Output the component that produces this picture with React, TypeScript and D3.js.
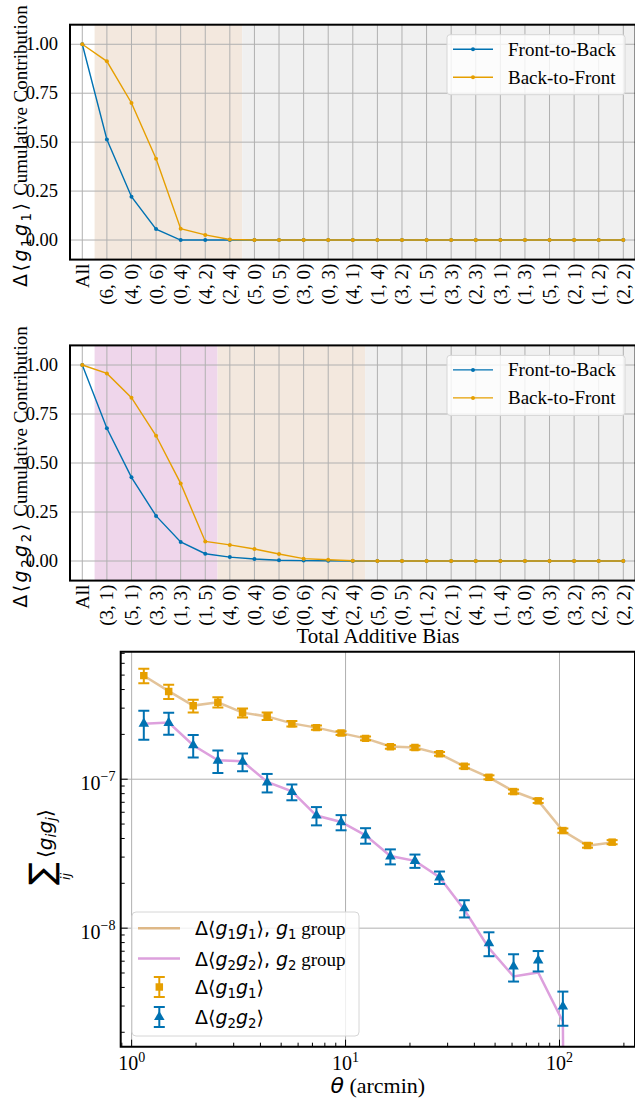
import React from 'react';
import * as d3 from 'd3';

// ---- data ----
const g1Cats = ['All', '(6, 0)', '(4, 0)', '(0, 6)', '(0, 4)', '(4, 2)', '(2, 4)', '(5, 0)', '(0, 5)', '(3, 0)', '(0, 3)', '(4, 1)', '(1, 4)', '(3, 2)', '(1, 5)', '(3, 3)', '(2, 3)', '(3, 1)', '(1, 3)', '(5, 1)', '(2, 1)', '(1, 2)', '(2, 2)'];
const g1Front = [1.0, 0.514, 0.221, 0.056, 0.0, 0.0, 0.0, 0, 0, 0, 0, 0, 0, 0, 0, 0, 0, 0, 0, 0, 0, 0, 0];
const g1Back = [1.0, 0.913, 0.70, 0.415, 0.058, 0.026, 0.003, 0, 0, 0, 0, 0, 0, 0, 0, 0, 0, 0, 0, 0, 0, 0, 0];
// shaded groups: [first category, last category]
const g1Groups = [['(6, 0)', '(2, 4)'], ['(5, 0)', '(2, 2)']];

const g2Cats = ['All', '(3, 1)', '(5, 1)', '(3, 3)', '(1, 3)', '(1, 5)', '(4, 0)', '(0, 4)', '(6, 0)', '(0, 6)', '(4, 2)', '(2, 4)', '(5, 0)', '(0, 5)', '(1, 2)', '(2, 1)', '(4, 1)', '(1, 4)', '(3, 0)', '(0, 3)', '(3, 2)', '(2, 3)', '(2, 2)'];
const g2Front = [1.0, 0.677, 0.427, 0.230, 0.097, 0.037, 0.020, 0.010, 0.004, 0.002, 0.001, 0, 0, 0, 0, 0, 0, 0, 0, 0, 0, 0, 0];
const g2Back = [1.0, 0.957, 0.833, 0.639, 0.396, 0.100, 0.082, 0.061, 0.036, 0.012, 0.006, 0.001, 0, 0, 0, 0, 0, 0, 0, 0, 0, 0, 0];
const g2Groups = [['(3, 1)', '(1, 5)'], ['(4, 0)', '(2, 4)'], ['(5, 0)', '(2, 2)']];

const cumTicks = [0, 0.25, 0.5, 0.75, 1.0];

const theta = [1.14, 1.49, 1.94, 2.53, 3.30, 4.30, 5.61, 7.31, 9.53, 12.4, 16.2, 21.1, 27.5, 35.9, 46.8, 61.0, 79.5, 103.7, 135.2, 176.2];
const g1g1 = [4.96e-7, 3.88e-7, 3.11e-7, 3.29e-7, 2.79e-7, 2.65e-7, 2.36e-7, 2.22e-7, 2.04e-7, 1.88e-7, 1.65e-7, 1.63e-7, 1.48e-7, 1.22e-7, 1.03e-7, 8.26e-8, 7.16e-8, 4.52e-8, 3.59e-8, 3.78e-8];
const g1g1Err = [5.5e-8, 4.2e-8, 3.1e-8, 2.6e-8, 1.9e-8, 1.5e-8, 1.0e-8, 7e-9, 6e-9, 5.5e-9, 5e-9, 5e-9, 4.5e-9, 3.8e-9, 3.2e-9, 2.6e-9, 2.3e-9, 1.5e-9, 1.2e-9, 1.2e-9];
const g1Group = [4.95e-7, 3.90e-7, 3.12e-7, 3.28e-7, 2.80e-7, 2.64e-7, 2.37e-7, 2.22e-7, 2.04e-7, 1.88e-7, 1.66e-7, 1.63e-7, 1.48e-7, 1.22e-7, 1.03e-7, 8.3e-8, 7.18e-8, 4.5e-8, 3.58e-8, 3.76e-8];
const g2g2 = [2.36e-7, 2.39e-7, 1.69e-7, 1.33e-7, 1.31e-7, 9.5e-8, 8.22e-8, 5.70e-8, 5.14e-8, 4.19e-8, 3.03e-8, 2.83e-8, 2.19e-8, 1.36e-8, 7.93e-9, 5.53e-9, 6.07e-9, 2.98e-9];
const g2g2Err = [5.2e-8, 4.0e-8, 2.9e-8, 2.3e-8, 1.8e-8, 1.35e-8, 1.0e-8, 8e-9, 6e-9, 5e-9, 3.5e-9, 2.9e-9, 2.1e-9, 1.8e-9, 1.45e-9, 1.15e-9, 9.5e-10, 7.7e-10];
const g2Group = [2.36e-7, 2.40e-7, 1.69e-7, 1.34e-7, 1.32e-7, 9.6e-8, 8.3e-8, 5.70e-8, 5.16e-8, 4.2e-8, 3.05e-8, 2.83e-8, 2.2e-8, 1.33e-8, 7.34e-9, 4.74e-9, 5.04e-9, 2.36e-9, -1.0e-9, -2.0e-9];

// ---- style ----
const SERIF = '"Liberation Serif", "Times New Roman", serif';
const MATH = '"DejaVu Sans", sans-serif';
const BLUE = '#0072B2';
const ORANGE = '#E69F00';
const TAN = '#deb887';
const PLUM = '#dda0dd';
const GRID = '#b0b0b0';
const spanColors1 = ['#f3e8de', '#f0f0f0'];
const spanColors2 = ['#efd6eb', '#f3e8de', '#f0f0f0'];

type Piece = { t: string; it?: boolean; sub?: boolean; sup?: boolean; serif?: boolean };

function Rich({ pieces, fs, ls = 0 }: { pieces: Piece[]; fs: number; ls?: number }) {
  let shift = 0;
  return (
    <>
      {pieces.map((p, i) => {
        const target = p.sub ? fs * 0.22 : p.sup ? -fs * 0.42 : 0;
        const dy = target - shift;
        shift = target;
        return (
          <tspan key={i} dy={dy || undefined}
            fontFamily={p.serif ? SERIF : MATH}
            fontStyle={p.it ? 'italic' : 'normal'}
            letterSpacing={p.serif ? 0 : ls}
            fontSize={p.sub || p.sup ? fs * 0.7 : fs}>{p.t}</tspan>
        );
      })}
    </>
  );
}

const dgg = (n: string): Piece[] => [
  { t: 'Δ⟨' }, { t: 'g', it: true }, { t: n, sub: true }, { t: 'g', it: true }, { t: n, sub: true }, { t: '⟩' },
];

interface CumProps {
  cats: string[];
  front: number[];
  back: number[];
  groups: string[][];
  colors: string[];
  top: number;
  bottom: number;
  n: string;
}

const CumPanel: React.FC<CumProps> = ({ cats, front, back, groups, colors, top, bottom, n }) => {
  const left = 70, right = 635.6;
  const x = d3.scaleBand<string>().domain(cats).range([left, right]).padding(0);
  const bw = x.bandwidth();
  const cx = (c: string) => (x(c) as number) + bw / 2;
  const y = d3.scaleLinear().domain([-0.1, 1.1]).range([bottom, top]);
  const line = d3.line<number>().x((_, i) => cx(cats[i])).y(v => y(v));
  const fmt = d3.format('.2f');
  const lx = 447, ly = top + 10;

  return (
    <g>
      {groups.map((g, i) => (
        <rect key={i} x={x(g[0])} y={top} width={(x(g[1]) as number) + bw - (x(g[0]) as number)}
          height={bottom - top} fill={colors[i]} />
      ))}
      {cats.map(c => (
        <line key={c} x1={cx(c)} x2={cx(c)} y1={top} y2={bottom} stroke={GRID} strokeWidth={1} />
      ))}
      {cumTicks.map(t => (
        <g key={t}>
          <line x1={left} x2={right} y1={y(t)} y2={y(t)} stroke={GRID} strokeWidth={1} />
          <text x={58} y={y(t) + 6} textAnchor="end" fontFamily={SERIF} fontSize={18.5}>{fmt(t)}</text>
        </g>
      ))}
      {[{ d: front, c: BLUE }, { d: back, c: ORANGE }].map((s, k) => (
        <g key={k}>
          <path d={line(s.d) || ''} fill="none" stroke={s.c} strokeWidth={1.4} />
          {s.d.map((v, i) => <circle key={i} cx={cx(cats[i])} cy={y(v)} r={2} fill={s.c} />)}
        </g>
      ))}
      <rect x={left} y={top} width={right - left} height={bottom - top} fill="none" stroke="#000" strokeWidth={2} />
      {cats.map(c => (
        <text key={c} transform={`translate(${cx(c) + 6.5},${bottom + 4}) rotate(-90)`} textAnchor="end"
          fontFamily={SERIF} fontSize={19}>{c}</text>
      ))}
      <g transform={`translate(27,${(top + bottom) / 2 + 4}) rotate(-90)`}>
        <text x={0} y={0} textAnchor="middle" fontSize={19}>
          <Rich fs={19} ls={2.5} pieces={[...dgg(n), { t: ' Cumulative Contribution', serif: true }]} />
        </text>
      </g>
      <rect x={lx} y={ly} width={178} height={60} rx={3} fill="#fff" fillOpacity={0.8} stroke="#d6d6d6" />
      {[{ c: BLUE, t: 'Front-to-Back' }, { c: ORANGE, t: 'Back-to-Front' }].map((e, i) => (
        <g key={i}>
          <line x1={lx + 6} x2={lx + 46} y1={ly + 14.5 + i * 28} y2={ly + 14.5 + i * 28} stroke={e.c} strokeWidth={1.4} />
          <circle cx={lx + 26} cy={ly + 14.5 + i * 28} r={2} fill={e.c} />
          <text x={lx + 61} y={ly + 21 + i * 28} fontFamily={SERIF} fontSize={19}>{e.t}</text>
        </g>
      ))}
    </g>
  );
};

const CorrPanel: React.FC = () => {
  const left = 120.7, right = 635, top = 651.7, bottom = 1046.7;
  const x = d3.scaleLog().domain([0.889, 225.4]).range([left, right]);
  const y = d3.scaleLog().domain([1.6e-9, 7.18e-7]).range([bottom, top]);
  const yv = (v: number) => y(Math.max(v, 1e-30));
  const line = d3.line<number>().x((_, i) => x(theta[i])).y(v => yv(v));
  const xMinor = x.ticks().filter(t => t >= 0.889 && t <= 225.4);
  const yMinor = y.ticks().filter(t => t >= 1.6e-9 && t <= 7.18e-7);
  const xMajor = [1, 10, 100];
  const yMajor = [1e-8, 1e-7];
  const sq = d3.symbol(d3.symbolSquare, 56)() || '';
  const tri = d3.symbol(d3.symbolTriangle, 48)() || '';

  const errBars = (vals: number[], errs: number[], color: string, marker: string) =>
    vals.map((v, i) => {
      const px = x(theta[i]);
      const y1 = yv(v - errs[i]), y2 = yv(v + errs[i]);
      return (
        <g key={i}>
          <line x1={px} x2={px} y1={y1} y2={y2} stroke={color} strokeWidth={2} />
          <line x1={px - 5.5} x2={px + 5.5} y1={y1} y2={y1} stroke={color} strokeWidth={2} />
          <line x1={px - 5.5} x2={px + 5.5} y1={y2} y2={y2} stroke={color} strokeWidth={2} />
          <path d={marker} transform={`translate(${px},${yv(v)})`} fill={color} />
        </g>
      );
    });

  const legX = 132, legY = 912;
  const rowY = [928.3, 958.5, 987, 1017];

  return (
    <g>
      <defs>
        <clipPath id="corrClip"><rect x={left} y={top} width={right - left} height={bottom - top} /></clipPath>
      </defs>
      {xMajor.map(t => <line key={t} x1={x(t)} x2={x(t)} y1={top} y2={bottom} stroke={GRID} strokeWidth={1} />)}
      {yMajor.map(t => <line key={t} x1={left} x2={right} y1={y(t)} y2={y(t)} stroke={GRID} strokeWidth={1} />)}
      <g clipPath="url(#corrClip)">
        <path d={line(g1Group) || ''} fill="none" stroke={TAN} strokeWidth={2.5} strokeOpacity={0.85} />
        <path d={line(g2Group) || ''} fill="none" stroke={PLUM} strokeWidth={2.5} />
        {errBars(g1g1, g1g1Err, ORANGE, sq)}
        {errBars(g2g2, g2g2Err, BLUE, tri)}
      </g>
      {xMinor.map(t => {
        const major = xMajor.includes(t);
        return <line key={t} x1={x(t)} x2={x(t)} y1={bottom} y2={bottom - (major ? 7 : 4)} stroke="#000" strokeWidth={1} />;
      })}
      {yMinor.map(t => {
        const major = yMajor.some(m => Math.abs(m - t) / m < 1e-6);
        return <line key={t} x1={left} x2={left + (major ? 7 : 4)} y1={y(t)} y2={y(t)} stroke="#000" strokeWidth={1} />;
      })}
      <path d={`M${left},${bottom}V${top}H${right}V${bottom}Z`} fill="none" stroke="#000" strokeWidth={2} />
      {xMajor.map((t, i) => (
        <text key={t} x={x(t)} y={bottom + 23.5} textAnchor="middle" fontFamily={SERIF} fontSize={20}>
          <Rich fs={20} pieces={[{ t: '10', serif: true }, { t: String(i), sup: true, serif: true }]} />
        </text>
      ))}
      {yMajor.map(t => (
        <text key={t} x={115.5} y={y(t) + 10.5} textAnchor="end" fontFamily={SERIF} fontSize={20}>
          <Rich fs={20} pieces={[{ t: '10', serif: true }, { t: '−' + Math.round(-Math.log10(t)), sup: true, serif: true }]} />
        </text>
      ))}
      <text x={377.8} y={1093} textAnchor="middle" fontSize={22}>
        <Rich fs={22} pieces={[{ t: 'θ', it: true }, { t: ' (arcmin)', serif: true }]} />
      </text>
      <g transform="translate(53,885) rotate(-90)">
        <text x={0} y={0} fontFamily={MATH} fontSize={34}>∑</text>
        <text x={5} y={17} fontFamily={MATH} fontStyle="italic" fontSize={13}>ij</text>
        <text x={27} y={-1} fontSize={20}>
          <Rich fs={20} pieces={[{ t: '⟨' }, { t: 'g', it: true }, { t: 'i', it: true, sub: true }, { t: 'g', it: true }, { t: 'j', it: true, sub: true }, { t: '⟩' }]} />
        </text>
      </g>
      <rect x={legX} y={legY} width={227} height={124} rx={4} fill="#fff" fillOpacity={0.8} stroke="#d6d6d6" />
      <line x1={138} x2={180} y1={rowY[0]} y2={rowY[0]} stroke={TAN} strokeWidth={2.5} />
      <line x1={138} x2={180} y1={rowY[1]} y2={rowY[1]} stroke={PLUM} strokeWidth={2.5} />
      {[{ c: ORANGE, m: sq, r: 2 }, { c: BLUE, m: tri, r: 3 }].map(e => {
        const cy = rowY[e.r];
        return (
          <g key={e.r}>
            <line x1={159.3} x2={159.3} y1={cy - 10} y2={cy + 10} stroke={e.c} strokeWidth={2} />
            <line x1={153.8} x2={164.8} y1={cy - 10} y2={cy - 10} stroke={e.c} strokeWidth={2} />
            <line x1={153.8} x2={164.8} y1={cy + 10} y2={cy + 10} stroke={e.c} strokeWidth={2} />
            <path d={e.m} transform={`translate(159.3,${cy})`} fill={e.c} />
          </g>
        );
      })}
      {[
        [...dgg('1'), { t: ', ' }, { t: 'g', it: true }, { t: '1', sub: true }, { t: ' group', serif: true }],
        [...dgg('2'), { t: ', ' }, { t: 'g', it: true }, { t: '2', sub: true }, { t: ' group', serif: true }],
        dgg('1'),
        dgg('2'),
      ].map((p, i) => (
        <text key={i} x={195} y={rowY[i] + 7} fontSize={19}>
          <Rich fs={19} pieces={p as Piece[]} />
        </text>
      ))}
    </g>
  );
};

export default function App() {
  return (
    <svg width={635} height={1103} style={{ position: 'absolute', left: 0, top: 0, background: '#fff' }}>
      <rect width={635} height={1103} fill="#fff" />
      <CumPanel cats={g1Cats} front={g1Front} back={g1Back} groups={g1Groups} colors={spanColors1}
        top={24.7} bottom={259.6} n="1" />
      <CumPanel cats={g2Cats} front={g2Front} back={g2Back} groups={g2Groups} colors={spanColors2}
        top={345.4} bottom={580.6} n="2" />
      <text x={378} y={643} textAnchor="middle" fontFamily={SERIF} fontSize={21}>Total Additive Bias</text>
      <CorrPanel />
    </svg>
  );
}
